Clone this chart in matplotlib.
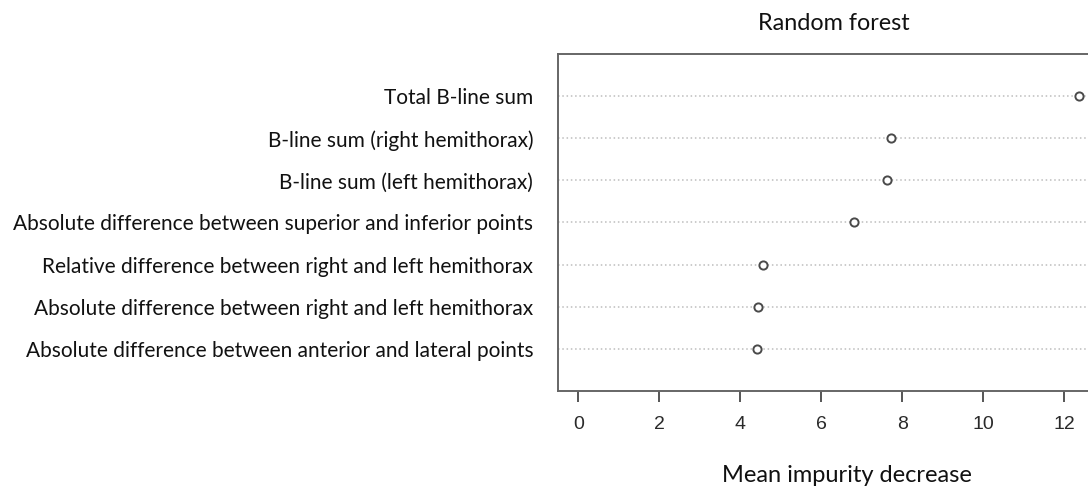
import matplotlib
matplotlib.use("Agg")
import matplotlib.pyplot as plt

features = [
    "Total B-line sum",
    "B-line sum (right hemithorax)",
    "B-line sum (left hemithorax)",
    "Absolute difference between superior and inferior points",
    "Relative difference between right and left hemithorax",
    "Absolute difference between right and left hemithorax",
    "Absolute difference between anterior and lateral points",
]
importance = [12.36, 7.72, 7.62, 6.80, 4.56, 4.45, 4.41]
xticks = [0, 2, 4, 6, 8, 10, 12]
title = "Random forest"
xlabel = "Mean impurity decrease"

W, H = 1088, 488
DPI = 100
fig = plt.figure(figsize=(W / DPI, H / DPI), dpi=DPI)

px_per_unit = 40.48
x0_px = 578.3
xmin = -0.494
xmax = 12.85
left_px = x0_px + xmin * px_per_unit
right_px = x0_px + xmax * px_per_unit
top_px, bottom_px = 54.3, 390.7
ax = fig.add_axes([left_px / W, 1 - bottom_px / H,
                   (right_px - left_px) / W, (bottom_px - top_px) / H])

n = len(features)
rows = list(range(n, 0, -1))
for r in rows:
    ax.axhline(r, color="#bdbdbd", lw=1.1, ls=(0, (1, 1.8)), zorder=1)
ax.plot(importance, rows, ls="none", marker="o", ms=5.9, mfc="white",
        mec="#4a4a4a", mew=1.4, zorder=3)

ax.set_xlim(xmin, xmax)
ax.set_ylim(0, n + 1)
for s in ax.spines.values():
    s.set_color("#666666")
    s.set_linewidth(1.4)

ax.set_xticks(xticks)
ax.set_xticklabels([str(t) for t in xticks], family="Liberation Sans",
                   fontsize=14, color="#2a2a2a")
ax.tick_params(axis="x", length=8, width=1.4, color="#555555", pad=10)

lab_font = "Lato"
ax.set_yticks(rows)
ax.set_yticklabels(features, family=lab_font, fontsize=16, color="#111111")
ax.tick_params(axis="y", length=0, pad=(left_px - 533.2) * 72 / DPI)

t_title = fig.text(834 / W, 1 - 30 / H, title, ha="center", va="baseline",
                   family=lab_font, fontsize=16, color="#111111")
t_xl = fig.text(846.7 / W, 1 - 482.3 / H, xlabel, ha="center", va="baseline",
                family=lab_font, fontsize=16, color="#111111")

fig.canvas.draw()
rend = fig.canvas.get_renderer()

def fit(t, target):
    bb = t.get_window_extent(rend)
    t.set_fontsize(t.get_fontsize() * target / bb.width)

fit(t_title, 152)
fit(t_xl, 252)
ylabs = ax.get_yticklabels()
bb = ylabs[3].get_window_extent(rend)
newsize = ylabs[3].get_fontsize() * 523 / bb.width
for t in ylabs:
    t.set_fontsize(newsize)

fig.savefig("out.png", dpi=DPI)
